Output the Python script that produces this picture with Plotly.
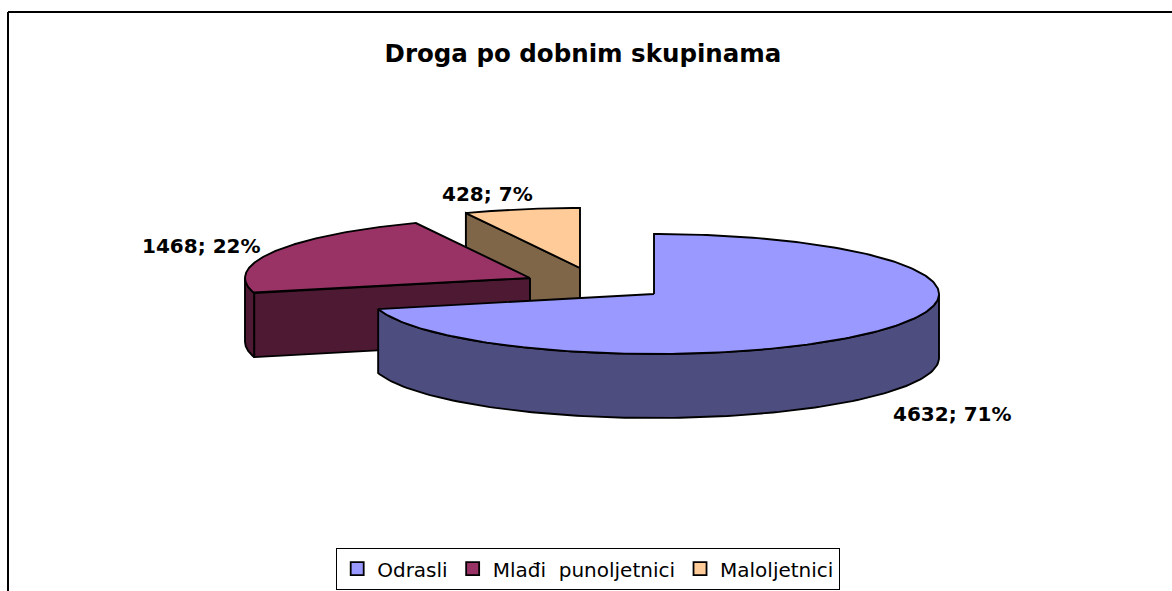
import numpy as np
import plotly.graph_objects as go

# Data
categories = ["Odrasli", "Mlađi\u00a0\u00a0punoljetnici", "Maloljetnici"]
values = [4632, 1468, 428]
title_text = "Droga po dobnim skupinama"

# Style
top_colors = ["#9999FF", "#993366", "#FFCC99"]
side_colors = ["#4D4D80", "#4D1933", "#806649"]

# Projection of the exploded tilted pie (page pixels)
centres = [(654, 294), (530, 278), (580, 268)]
label_pos = [(952, 414), (201, 246), (487, 194)]
RX, RY, DEPTH = 285, 60, 64
W, H = 1172, 591
LINE = dict(color="black", width=1.9)
FONT = "DejaVu Sans"

total = sum(values)
shares = [v / total for v in values]
edges = np.cumsum([0] + shares) * 2 * np.pi


def rim(c, t):
    return c[0] + RX * np.sin(t), c[1] - RY * np.cos(t)


def poly(xs, ys, color):
    return go.Scatter(
        x=list(xs), y=list(ys), mode="lines", fill="toself", fillcolor=color,
        line=LINE, hoverinfo="skip", showlegend=False,
    )


fig = go.Figure()
# back to front: last wedge first
for i in reversed(range(len(values))):
    c, a0, a1 = centres[i], edges[i], edges[i + 1]
    # cut face on the wedge's starting edge, when it faces the viewer
    if np.sin(a0) < -1e-9:
        ex, ey = rim(c, a0)
        fig.add_trace(poly([c[0], ex, ex, c[0], c[0]],
                           [c[1], ey, ey + DEPTH, c[1] + DEPTH, c[1]], side_colors[i]))
    # outer wall, front half only
    lo, hi = max(a0, np.pi / 2), min(a1, 3 * np.pi / 2)
    if hi > lo:
        t = np.linspace(lo, hi, 120)
        x, y = rim(c, t)
        fig.add_trace(poly(np.r_[x, x[::-1], x[0]], np.r_[y, y[::-1] + DEPTH, y[0]], side_colors[i]))
    # top
    t = np.linspace(a0, a1, 240)
    x, y = rim(c, t)
    fig.add_trace(poly(np.r_[c[0], x, c[0]], np.r_[c[1], y, c[1]], top_colors[i]))

# legend entries
for name, color in zip(categories, top_colors):
    fig.add_trace(go.Scatter(
        x=[None], y=[None], mode="markers", name=name,
        marker=dict(symbol="square", size=13, color=color, line=dict(color="black", width=1.8)),
    ))

for v, s, (lx, ly) in zip(values, shares, label_pos):
    fig.add_annotation(x=lx, y=ly, xref="x", yref="y", showarrow=False,
                       text=f"<b>{v}; {round(s * 100)}%</b>",
                       font=dict(family=FONT, size=20, color="black"))

fig.update_layout(
    width=W, height=H, margin=dict(l=0, r=0, t=0, b=0),
    paper_bgcolor="white", plot_bgcolor="white",
    xaxis=dict(range=[0, W], visible=False, fixedrange=True),
    yaxis=dict(range=[H, 0], visible=False, fixedrange=True),
    title=dict(text=f"<b>{title_text}</b>", x=583 / W, xanchor="center",
               y=1 - 53 / H, yanchor="middle",
               font=dict(family=FONT, size=24.5, color="black")),
    legend=dict(orientation="h", x=588 / W, xanchor="center", y=1 - 590 / H, yanchor="bottom",
                bordercolor="black", borderwidth=1.2, bgcolor="white",
                font=dict(family=FONT, size=20, color="black")),
    shapes=[
        dict(type="line", xref="x", yref="y", x0=8, x1=8, y0=12, y1=H, line=dict(color="black", width=2)),
        dict(type="line", xref="x", yref="y", x0=8, x1=W, y0=12, y1=12, line=dict(color="black", width=2)),
    ],
)

fig.write_html("out.html", config={"displayModeBar": False},
               post_script="document.body.style.margin='0';")
